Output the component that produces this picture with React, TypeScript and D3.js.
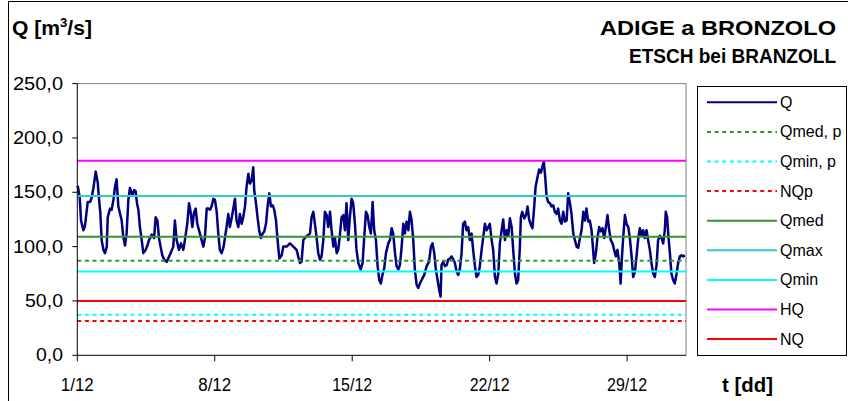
import React from 'react'
import * as d3 from 'd3'

// portata oraria Q (giorno dal 1/12, m3/s)
const qDay = [
  0.02, 0.12, 0.19, 0.31, 0.39, 0.53, 0.65, 0.73, 0.82, 0.94, 1.04, 1.11, 1.17, 1.24, 1.33, 1.41,
  1.5, 1.55, 1.67, 1.75, 1.84, 1.92, 2.0, 2.09, 2.17, 2.26, 2.34, 2.43, 2.51, 2.6, 2.68, 2.8,
  2.9, 2.97, 3.04, 3.11, 3.19, 3.28, 3.36, 3.48, 3.57, 3.65, 3.79, 3.91, 3.99, 4.08, 4.16, 4.24,
  4.33, 4.43, 4.55, 4.63, 4.75, 4.89, 4.97, 5.06, 5.18, 5.28, 5.4, 5.48, 5.6, 5.69, 5.77, 5.86,
  5.94, 6.03, 6.11, 6.2, 6.3, 6.42, 6.5, 6.59, 6.67, 6.76, 6.84, 6.93, 7.01, 7.1, 7.18, 7.26,
  7.35, 7.44, 7.52, 7.6, 7.69, 7.77, 7.86, 8.03, 8.11, 8.2, 8.28, 8.37, 8.45, 8.54, 8.62, 8.71,
  8.79, 8.88, 8.96, 9.01, 9.1, 9.18, 9.27, 9.35, 9.44, 9.52, 9.61, 9.69, 9.78, 9.86, 9.95, 10.03,
  10.12, 10.2, 10.29, 10.41, 10.49, 10.66, 10.83, 11.0, 11.17, 11.25, 11.34, 11.42, 11.51, 11.59, 11.71, 11.85,
  11.93, 12.02, 12.1, 12.19, 12.27, 12.36, 12.44, 12.53, 12.61, 12.7, 12.78, 12.87, 12.95, 13.04, 13.12, 13.21,
  13.29, 13.38, 13.46, 13.55, 13.63, 13.71, 13.8, 13.88, 13.97, 14.05, 14.14, 14.22, 14.31, 14.43, 14.53, 14.61,
  14.7, 14.78, 14.87, 14.95, 15.04, 15.12, 15.21, 15.29, 15.38, 15.46, 15.55, 15.63, 15.72, 15.84, 15.92, 16.01,
  16.09, 16.18, 16.26, 16.35, 16.43, 16.52, 16.6, 16.68, 16.77, 16.86, 16.94, 17.02, 17.11, 17.19, 17.28, 17.36,
  17.45, 17.53, 17.67, 17.79, 17.91, 18.01, 18.09, 18.18, 18.26, 18.35, 18.43, 18.5, 18.55, 18.64, 18.72, 18.81,
  18.89, 18.98, 19.06, 19.15, 19.23, 19.32, 19.4, 19.48, 19.57, 19.65, 19.74, 19.82, 19.91, 19.99, 20.08, 20.16,
  20.25, 20.33, 20.42, 20.5, 20.59, 20.67, 20.76, 20.84, 20.93, 21.01, 21.1, 21.18, 21.27, 21.35, 21.44, 21.52,
  21.61, 21.69, 21.78, 21.86, 21.95, 22.03, 22.12, 22.2, 22.29, 22.37, 22.45, 22.54, 22.59, 22.66, 22.76, 22.85,
  22.93, 23.01, 23.1, 23.18, 23.27, 23.34, 23.44, 23.52, 23.61, 23.69, 23.76, 23.83, 23.9, 23.98, 24.07, 24.15,
  24.24, 24.32, 24.41, 24.49, 24.58, 24.66, 24.75, 24.83, 24.92, 25.0, 25.09, 25.17, 25.26, 25.34, 25.43, 25.51,
  25.6, 25.68, 25.77, 25.85, 25.93, 26.02, 26.1, 26.19, 26.27, 26.32, 26.41, 26.49, 26.58, 26.66, 26.75, 26.83,
  26.92, 27.0, 27.09, 27.17, 27.26, 27.34, 27.43, 27.51, 27.6, 27.67, 27.73, 27.8, 27.89, 27.97, 28.06, 28.14,
  28.23, 28.31, 28.4, 28.48, 28.57, 28.65, 28.74, 28.82, 28.9, 28.99, 29.07, 29.16, 29.24, 29.33, 29.41, 29.5,
  29.58, 29.67, 29.75, 29.84, 29.92, 29.97, 30.04, 30.11, 30.18, 30.26, 30.35, 30.43, 30.52, 30.6, 30.69, 30.77,
  30.86, 30.94
]
const qValue = [
  156, 146, 124, 115, 119, 141, 141, 145, 154, 169, 159, 143, 132, 106, 97, 94,
  100, 127, 135, 134, 143, 155, 162, 137, 131, 124, 109, 101, 112, 143, 154, 147,
  152, 151, 140, 134, 118, 106, 94, 97, 101, 106, 111, 108, 127, 124, 108, 100,
  92, 88, 86, 89, 94, 100, 124, 106, 97, 103, 97, 106, 121, 140, 132, 118,
  131, 135, 121, 115, 108, 100, 108, 135, 135, 134, 137, 144, 143, 132, 112, 97,
  94, 99, 108, 118, 130, 118, 126, 144, 124, 118, 130, 121, 127, 137, 155, 167,
  158, 161, 173, 152, 140, 127, 114, 108, 112, 114, 121, 137, 149, 137, 138, 134,
  124, 106, 89, 92, 100, 100, 103, 100, 97, 91, 85, 86, 106, 108, 110, 112,
  127, 132, 121, 108, 94, 88, 91, 106, 132, 129, 118, 132, 115, 100, 108, 94,
  97, 112, 127, 129, 115, 140, 106, 127, 144, 140, 121, 97, 85, 79, 85, 108,
  132, 129, 118, 112, 141, 115, 106, 83, 69, 66, 75, 80, 94, 103, 106, 117,
  112, 94, 82, 79, 83, 100, 121, 112, 123, 115, 132, 125, 106, 79, 65, 62,
  66, 69, 74, 82, 86, 100, 103, 94, 79, 69, 60, 54, 83, 86, 82, 83,
  88, 89, 91, 88, 85, 77, 74, 79, 94, 121, 123, 115, 118, 106, 112, 97,
  82, 72, 74, 82, 97, 108, 121, 115, 118, 121, 106, 97, 72, 66, 75, 103,
  115, 125, 106, 115, 110, 126, 118, 97, 75, 66, 69, 100, 127, 132, 126, 129,
  137, 125, 120, 117, 137, 155, 164, 171, 168, 174, 178, 164, 146, 141, 140, 137,
  138, 132, 130, 135, 124, 121, 132, 123, 124, 149, 140, 130, 112, 106, 100, 99,
  108, 115, 132, 124, 135, 123, 124, 115, 97, 85, 94, 108, 118, 114, 117, 108,
  118, 129, 115, 106, 103, 97, 91, 97, 85, 66, 88, 108, 129, 121, 118, 108,
  91, 72, 77, 91, 108, 117, 110, 115, 108, 115, 106, 97, 85, 75, 72, 83,
  106, 110, 108, 103, 115, 132, 127, 108, 94, 75, 69, 66, 75, 85, 91, 92,
  91, 92
]

// valori caratteristici (linee orizzontali)
const refNames = ['Qmed, p', 'Qmin, p', 'NQp', 'Qmed', 'Qmax', 'Qmin', 'HQ', 'NQ']
const refValues = [87, 37.4, 31.6, 109, 146.5, 77, 179, 50]

const yTicks = [0, 50, 100, 150, 200, 250]
const xTickDays = [0, 7, 14, 21, 28]
const xTickLabels = ['1/12', '8/12', '15/12', '22/12', '29/12']

const refStyle = {
  'Qmed, p': { color: '#2e9a2e', dash: '4,3.6' },
  'Qmin, p': { color: '#00ffff', dash: '4,3.6' },
  'NQp': { color: '#ff0000', dash: '4,3.6' },
  'Qmed': { color: '#2e9a2e', dash: null },
  'Qmax': { color: '#33cccc', dash: null },
  'Qmin': { color: '#00ffff', dash: null },
  'HQ': { color: '#ff00ff', dash: null },
  'NQ': { color: '#ff0000', dash: null }
}

const FONT = '"Liberation Sans", Arial, sans-serif'

export default function App() {
  const width = 848
  const height = 401
  const left = 77.3
  const right = 686
  const top = 83.6
  const bottom = 355.3

  const x = d3.scaleLinear().domain([0, 31]).range([left, right])
  const y = d3.scaleLinear().domain([0, 250]).range([bottom, top])

  const points = qDay.map((d, i) => [d, qValue[i]])
  const line = d3.line()
    .x(d => x(d[0]))
    .y(d => y(d[1]))

  const fmt = v => d3.format('.1f')(v).replace('.', ',')

  const legendItems = [{ name: 'Q', color: '#000080', dash: null }]
    .concat(refNames.map(n => ({ name: n, color: refStyle[n].color, dash: refStyle[n].dash })))

  return (
    <svg width={width} height={height} style={{ position: 'absolute', left: 0, top: 0 }}
      fontFamily={FONT}>
      <rect x={0} y={0} width={width} height={height} fill='#fff' />
      {/* cornice esterna */}
      <rect x={8.5} y={1.5} width={width + 10} height={height + 10} fill='none' stroke='#000' strokeWidth={1} />

      {/* titoli */}
      <text x={12} y={35} fontSize={21} fontWeight='bold' textLength={80} lengthAdjust='spacingAndGlyphs'>
        Q [m<tspan fontSize={13} dy={-8}>3</tspan><tspan dy={8}>/s]</tspan>
      </text>
      <text x={836} y={35} fontSize={21} fontWeight='bold' textAnchor='end'
        textLength={236} lengthAdjust='spacingAndGlyphs'>ADIGE a BRONZOLO</text>
      <text x={836} y={63} fontSize={20} fontWeight='bold' textAnchor='end'
        textLength={207} lengthAdjust='spacingAndGlyphs'>ETSCH bei BRANZOLL</text>

      {/* area del grafico */}
      <line x1={left} x2={right} y1={top} y2={top} stroke='#808080' />
      <line x1={right} x2={right} y1={top} y2={bottom} stroke='#808080' />

      {/* serie Q */}
      <path d={line(points)} fill='none' stroke='#000080' strokeWidth={2.5} strokeLinejoin='round' />

      {/* linee di riferimento */}
      {refNames.map((n, i) => (
        <line key={n} x1={left} x2={right} y1={y(refValues[i])} y2={y(refValues[i])}
          stroke={refStyle[n].color} strokeWidth={2}
          strokeDasharray={refStyle[n].dash || undefined} />
      ))}

      {/* asse y */}
      <line x1={left} x2={left} y1={top} y2={bottom} stroke='#000' />
      {yTicks.map(t => (
        <g key={t}>
          <line x1={left - 5} x2={left} y1={y(t)} y2={y(t)} stroke='#000' />
          <text x={63} y={y(t) + 6} fontSize={17.5} textAnchor='end'
            textLength={t === 0 ? 27 : t < 100 ? 38 : 50} lengthAdjust='spacingAndGlyphs'>{fmt(t)}</text>
        </g>
      ))}

      {/* asse x */}
      <line x1={left} x2={right} y1={bottom} y2={bottom} stroke='#000' />
      {xTickDays.map((d, i) => (
        <g key={d}>
          <line x1={x(d)} x2={x(d)} y1={bottom} y2={bottom + 6} stroke='#000' />
          <text x={x(d)} y={391} fontSize={18} textAnchor='middle'
            textLength={xTickLabels[i].length > 4 ? 40 : 33} lengthAdjust='spacingAndGlyphs'>{xTickLabels[i]}</text>
        </g>
      ))}
      <text x={722} y={392} fontSize={20} fontWeight='bold' textLength={51} lengthAdjust='spacingAndGlyphs'>t [dd]</text>

      {/* legenda */}
      <rect x={697.5} y={86.5} width={149} height={269} fill='#fff' stroke='#000' />
      {legendItems.map((it, i) => {
        const ly = 102.3 + i * 29.6
        return (
          <g key={it.name}>
            <line x1={707} x2={777} y1={ly} y2={ly} stroke={it.color} strokeWidth={2}
              strokeDasharray={it.dash || undefined} />
            <text x={780} y={ly + 5.5} fontSize={16}>{it.name}</text>
          </g>
        )
      })}
    </svg>
  )
}
